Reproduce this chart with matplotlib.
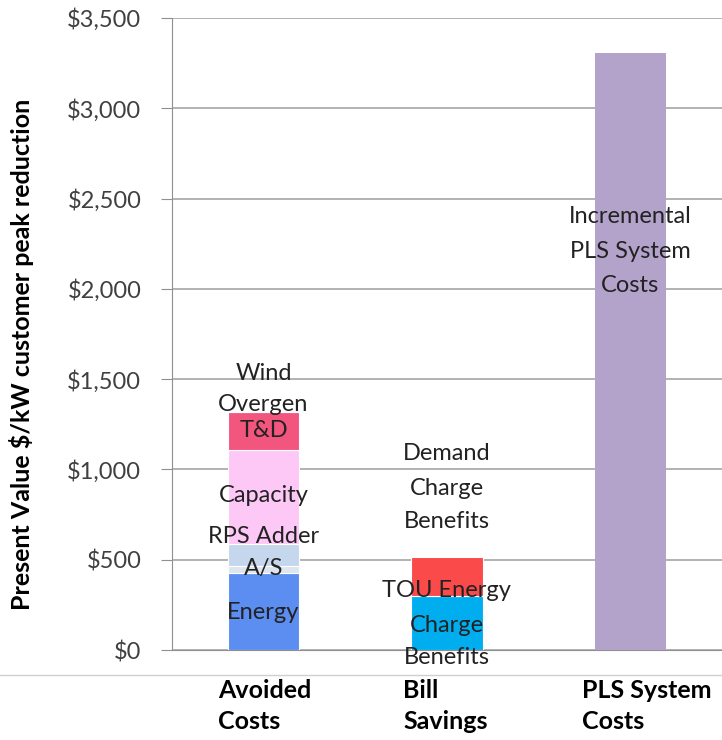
import matplotlib.pyplot as plt
from matplotlib.lines import Line2D
import numpy as np

plt.rcParams['font.family'] = ['Lato', 'DejaVu Sans']

categories = ["Avoided\nCosts", "Bill\nSavings", "PLS System\nCosts"]

# stacked segments (bottom to top), $/kW
avoided_names = ["Energy", "A/S", "RPS Adder", "Capacity", "T&D", "Wind Overgen"]
avoided_vals = [425, 40, 120, 525, 210, 0]
avoided_cols = ["#5b8ef0", "#dfe5ee", "#c5d7ec", "#fdc8f6", "#f2557d", "#f2557d"]

bill_names = ["TOU Energy Charge Benefits", "Demand Charge Benefits"]
bill_vals = [300, 215]
bill_cols = ["#00aeef", "#fb4a4a"]

pls_vals = [3305]
pls_col = "#b3a3cb"

yticks = np.arange(0, 3501, 500)
ytick_labels = ["$0", "$500", "$1,000", "$1,500", "$2,000", "$2,500", "$3,000", "$3,500"]

fig = plt.figure(figsize=(7.22, 7.40), dpi=100)
ax = fig.add_axes([0.238, 0.1216, 0.762, 0.8541])

x = np.arange(len(categories))
w = 0.39

bottom = 0
for v, c in zip(avoided_vals, avoided_cols):
    ax.bar(x[0], v, w, bottom=bottom, color=c, edgecolor="white", linewidth=0.8, zorder=3)
    bottom += v
bottom = 0
for v, c in zip(bill_vals, bill_cols):
    ax.bar(x[1], v, w, bottom=bottom, color=c, edgecolor="white", linewidth=0.8, zorder=3)
    bottom += v
ax.bar(x[2], pls_vals[0], w, color=pls_col, zorder=3)

# segment labels
lab = dict(ha="center", va="center", fontsize=17, color="#222222", zorder=5)
for t, y in [("Wind", 1534), ("Overgen", 1362), ("T&D", 1218), ("Capacity", 858),
             ("RPS Adder", 626), ("A/S", 454), ("Energy", 210)]:
    ax.text(x[0], y, t, **lab)
for t, y in [("Demand", 1091), ("Charge", 897), ("Benefits", 714),
             ("TOU Energy", 332), ("Charge", 138), ("Benefits", -44)]:
    ax.text(x[1], y, t, clip_on=False, **lab)
for t, y in [("Incremental", 2398), ("PLS System", 2209), ("Costs", 2021)]:
    ax.text(x[2], y, t, **lab)

ax.set_xlim(-0.5, 2.5)
ax.set_ylim(0, 3500)
ax.set_yticks(yticks)
ax.set_yticklabels(ytick_labels, fontsize=17, color="#404040")
ax.set_xticks([])
ax.yaxis.grid(True, color="#a6a6a6", linewidth=1.2, zorder=0)
ax.tick_params(axis="y", length=8, color="#909090", pad=14)
for s in ["top", "right"]:
    ax.spines[s].set_visible(False)
ax.spines["left"].set_color("#909090")
ax.spines["bottom"].set_color("#909090")
ax.set_ylabel("Present Value $/kW customer peak reduction", fontsize=18,
              fontweight="bold")
ax.yaxis.set_label_coords(-0.25, 0.467)

# category labels under the plot
for xf, t in zip([218, 403, 582], categories):
    fig.text(xf / 722, 1 - 706 / 740, t, ha="left", va="center", fontsize=18,
             fontweight="bold", linespacing=1.45)

fig.add_artist(Line2D([0, 1], [1 - 675 / 740] * 2, color="#d0d0d0", linewidth=1))

fig.savefig("out.png", dpi=100)
